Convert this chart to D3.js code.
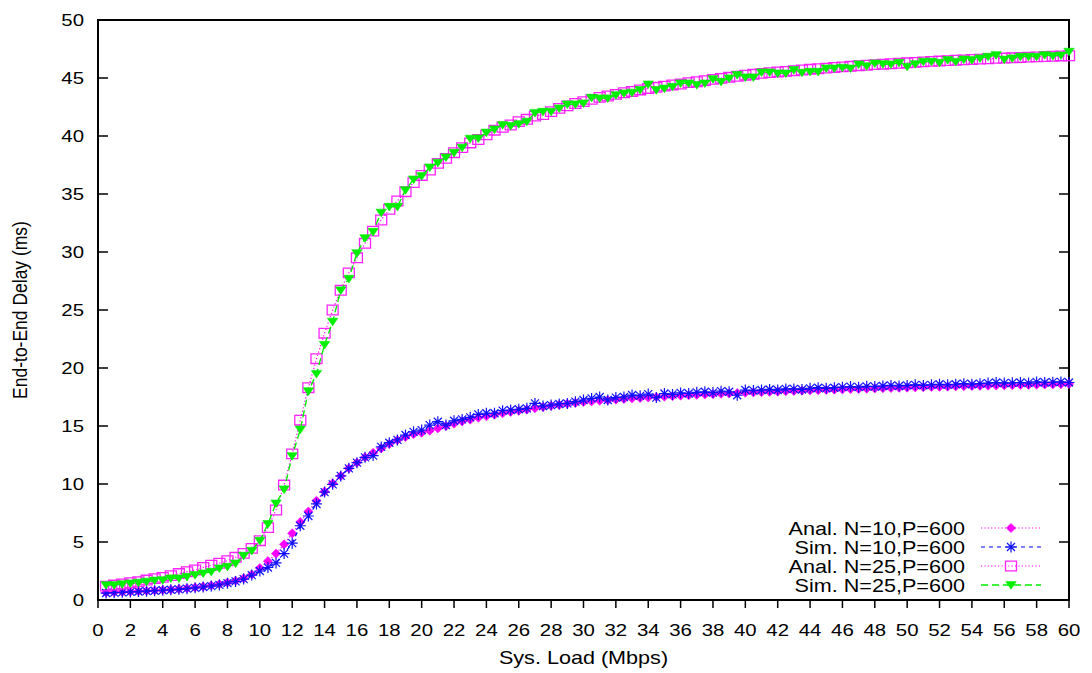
<!DOCTYPE html>
<html>
<head>
<meta charset="utf-8">
<script src="https://cdn.jsdelivr.net/npm/d3@7"></script>
<style>
  html, body { margin: 0; padding: 0; background: #fff; }
  svg { display: block; }
  text { font-family: "Liberation Sans", Arial, sans-serif; fill: #000; }
</style>
</head>
<body>
<svg id="chart" width="1092" height="673"></svg>
<script>
// System load (Mbps) at which each delay was evaluated
const loads = [
  0.5,1,1.5,2,2.5,3,3.5,4,4.5,5,5.5,6,6.5,7,7.5,8,8.5,9,9.5,10,
  10.5,11,11.5,12,12.5,13,13.5,14,14.5,15,15.5,16,16.5,17,17.5,18,18.5,19,19.5,20,
  20.5,21,21.5,22,22.5,23,23.5,24,24.5,25,25.5,26,26.5,27,27.5,28,28.5,29,29.5,30,
  30.5,31,31.5,32,32.5,33,33.5,34,34.5,35,35.5,36,36.5,37,37.5,38,38.5,39,39.5,40,
  40.5,41,41.5,42,42.5,43,43.5,44,44.5,45,45.5,46,46.5,47,47.5,48,48.5,49,49.5,50,
  50.5,51,51.5,52,52.5,53,53.5,54,54.5,55,55.5,56,56.5,57,57.5,58,58.5,59,59.5,60
];

// End-to-end delay (ms), analytical model, N=10, P=600
const analN10 = [
  0.65,0.67,0.70,0.72,0.75,0.78,0.82,0.86,0.90,0.95,1.01,1.08,1.16,1.25,1.36,1.50,1.66,1.87,2.20,2.75,
  3.35,4.00,4.80,5.75,6.72,7.62,8.55,9.35,10.06,10.70,11.35,11.84,12.30,12.68,13.07,13.45,13.78,14.05,14.30,14.42,
  14.60,14.80,15.00,15.20,15.40,15.55,15.72,15.85,15.98,16.10,16.22,16.32,16.42,16.54,16.64,16.74,16.82,16.92,17.00,17.07,
  17.13,17.18,17.23,17.28,17.33,17.38,17.42,17.46,17.50,17.54,17.58,17.62,17.65,17.69,17.72,17.75,17.78,17.81,17.84,17.87,
  17.90,17.92,17.95,17.97,18.00,18.02,18.05,18.07,18.09,18.12,18.14,18.16,18.18,18.20,18.22,18.24,18.26,18.28,18.30,18.31,
  18.33,18.35,18.37,18.38,18.40,18.42,18.43,18.45,18.46,18.48,18.49,18.51,18.52,18.54,18.55,18.56,18.58,18.59,18.60,18.62
];

// End-to-end delay (ms), simulation, N=10, P=600
const simN10 = [
  0.60,0.63,0.66,0.70,0.73,0.76,0.80,0.84,0.88,0.92,0.98,1.05,1.12,1.20,1.30,1.45,1.60,1.80,2.15,2.50,
  2.80,3.20,4.00,4.90,6.40,7.24,8.28,9.30,9.97,10.70,11.35,11.84,12.30,12.45,13.20,13.56,13.80,14.22,14.50,14.65,
  15.08,15.37,15.08,15.45,15.57,15.75,16.00,16.10,16.10,16.32,16.38,16.44,16.52,16.95,16.72,16.80,16.90,16.95,17.10,17.24,
  17.38,17.50,17.24,17.45,17.50,17.67,17.60,17.75,17.45,17.80,17.72,17.85,17.80,17.90,17.95,17.88,18.00,17.95,17.65,18.10,
  18.05,18.10,18.15,18.10,18.20,18.20,18.15,18.25,18.30,18.25,18.30,18.35,18.40,18.35,18.42,18.40,18.45,18.50,18.45,18.50,
  18.55,18.50,18.55,18.60,18.55,18.60,18.65,18.60,18.65,18.70,18.75,18.70,18.72,18.75,18.70,18.80,18.75,18.78,18.80,18.75
];

// End-to-end delay (ms), analytical model, N=25, P=600
const analN25 = [
  1.20,1.29,1.38,1.49,1.58,1.72,1.84,1.95,2.10,2.28,2.44,2.59,2.80,3.00,3.17,3.39,3.68,4.02,4.45,5.11,
  6.24,7.76,9.91,12.60,15.50,18.30,20.80,23.00,25.00,26.70,28.20,29.50,30.75,31.80,32.76,33.68,34.40,35.20,35.98,36.60,
  37.07,37.64,38.07,38.56,39.00,39.40,39.70,40.10,40.50,40.75,40.95,41.24,41.44,41.72,41.85,42.10,42.38,42.60,42.80,42.96,
  43.16,43.33,43.45,43.59,43.73,43.84,43.97,44.10,44.20,44.30,44.40,44.48,44.60,44.68,44.77,44.88,44.97,45.06,45.15,45.24,
  45.32,45.40,45.46,45.52,45.57,45.63,45.69,45.75,45.80,45.85,45.91,45.96,46.01,46.06,46.10,46.15,46.19,46.23,46.27,46.31,
  46.35,46.39,46.43,46.46,46.50,46.53,46.56,46.60,46.63,46.66,46.69,46.72,46.74,46.77,46.80,46.82,46.85,46.87,46.90,46.92
];

// End-to-end delay (ms), simulation, N=25, P=600
const simN25 = [
  1.29,1.29,1.36,1.43,1.50,1.58,1.68,1.72,1.87,1.87,2.01,2.16,2.30,2.44,2.73,2.87,3.16,3.82,4.25,5.11,
  6.55,8.33,9.54,12.41,14.70,18.00,19.50,22.00,24.00,26.70,27.70,29.90,31.20,31.75,33.40,33.90,33.90,35.34,36.26,36.55,
  37.30,37.70,38.16,38.56,39.00,39.77,39.80,40.30,40.57,40.95,40.87,41.03,41.24,42.00,42.10,42.10,42.38,42.73,42.73,42.82,
  43.30,43.25,43.25,43.53,43.68,43.74,43.97,44.45,43.97,44.10,44.25,44.54,44.54,44.40,44.54,44.91,44.68,44.97,45.26,45.06,
  45.06,45.49,45.49,45.40,45.40,45.69,45.46,45.54,45.54,45.83,45.83,45.90,45.83,46.18,46.03,46.26,46.20,46.18,46.32,45.98,
  46.20,46.41,46.41,46.32,46.55,46.41,46.60,46.55,46.70,46.84,46.98,46.60,46.70,46.84,46.84,46.84,46.98,46.90,46.95,47.27
];

const seriesNames = ["Anal. N=10,P=600", "Sim. N=10,P=600", "Anal. N=25,P=600", "Sim. N=25,P=600"];
const xTicks = [0,2,4,6,8,10,12,14,16,18,20,22,24,26,28,30,32,34,36,38,40,42,44,46,48,50,52,54,56,58,60];
const yTicks = [0,5,10,15,20,25,30,35,40,45,50];
const xTitle = "Sys. Load (Mbps)";
const yTitle = "End-to-End Delay (ms)";

// ---- layout ----
const W = 1092, H = 673;
const plot = { left: 98, right: 1069, top: 20, bottom: 600 };
const SX = 1.2; // horizontal glyph stretch

const svg = d3.select("#chart");
const x = d3.scaleLinear().domain([0, 60]).range([plot.left, plot.right]);
const y = d3.scaleLinear().domain([0, 50]).range([plot.bottom, plot.top]);

// marker shapes, centred on the data point
const markers = {
  diamond: g => g.append("path").attr("d", "M0,-4.6L4.6,0L0,4.6L-4.6,0Z")
                 .attr("fill", "#ff00ff").attr("stroke", "#ff00ff").attr("stroke-width", 0.6),
  star: g => g.append("path").attr("d", "M-5.5,0H5.5M0,-5.5V5.5M-4,-4L4,4M-4,4L4,-4")
                 .attr("fill", "none").attr("stroke", "#1010ff").attr("stroke-width", 1.2),
  square: g => g.append("path").attr("d", "M-5.5,-4.8H5.5V4.8H-5.5Z")
                 .attr("fill", "none").attr("stroke", "#ff22ff").attr("stroke-width", 1.3),
  triangle: g => g.append("path").attr("d", "M-5.2,-3.4H5.2L0,4.2Z")
                 .attr("fill", "#00ee00").attr("stroke", "#00ee00").attr("stroke-width", 0.6)
};

const series = [
  { name: seriesNames[0], values: analN10, color: "#ff00ff", dash: "1.2,2.2", width: 1.2, marker: "diamond" },
  { name: seriesNames[1], values: simN10,  color: "#0000ff", dash: "4,4",     width: 1.2, marker: "star" },
  { name: seriesNames[2], values: analN25, color: "#ff00ff", dash: "1.2,2.2", width: 1.2, marker: "square" },
  { name: seriesNames[3], values: simN25,  color: "#00ee00", dash: "7,4",     width: 1.4, marker: "triangle" }
];

function stretchedText(parent, tx, ty, str, size, anchor) {
  return parent.append("text")
    .attr("transform", `translate(${tx},${ty}) scale(${SX},1)`)
    .attr("text-anchor", anchor)
    .style("font-size", size + "px")
    .text(str);
}

// ---- axes frame and ticks ----
const axes = svg.append("g");
axes.append("rect")
  .attr("x", plot.left).attr("y", plot.top)
  .attr("width", plot.right - plot.left).attr("height", plot.bottom - plot.top)
  .attr("fill", "none").attr("stroke", "#000").attr("stroke-width", 2);

// y ticks point inward on both sides
yTicks.forEach(t => {
  axes.append("line").attr("x1", plot.left).attr("x2", plot.left + 10)
    .attr("y1", y(t)).attr("y2", y(t)).attr("stroke", "#000").attr("stroke-width", 1.5);
  axes.append("line").attr("x1", plot.right).attr("x2", plot.right - 10)
    .attr("y1", y(t)).attr("y2", y(t)).attr("stroke", "#000").attr("stroke-width", 1.5);
  stretchedText(axes, 84, y(t) + 6, String(t), 17, "end");
});

// x ticks point outward below the plot
xTicks.forEach(t => {
  axes.append("line").attr("x1", x(t)).attr("x2", x(t))
    .attr("y1", plot.bottom).attr("y2", plot.bottom + 8).attr("stroke", "#000").attr("stroke-width", 1.5);
  stretchedText(axes, x(t), 636, String(t), 17, "middle");
});

stretchedText(svg, (plot.left + plot.right) / 2, 664, xTitle, 18, "middle");
svg.append("text")
  .attr("transform", `translate(27,${(plot.top + plot.bottom) / 2}) scale(${SX},1) rotate(-90)`)
  .attr("text-anchor", "middle")
  .style("font-size", "17.5px")
  .text(yTitle);

// ---- data ----
const line = d3.line().x((d, i) => x(loads[i])).y(d => y(d));
const dataLayer = svg.append("g");
series.forEach(s => {
  const g = dataLayer.append("g");
  g.append("path").datum(s.values)
    .attr("d", line)
    .attr("fill", "none").attr("stroke", s.color)
    .attr("stroke-width", s.width).attr("stroke-dasharray", s.dash);
  g.selectAll("g.pt").data(s.values).join("g")
    .attr("class", "pt")
    .attr("transform", (d, i) => `translate(${x(loads[i])},${y(d)})`)
    .each(function () { markers[s.marker](d3.select(this)); });
});

// ---- legend ----
const legend = svg.append("g");
const rowY = [528, 547, 566, 585];
series.forEach((s, i) => {
  stretchedText(legend, 965, rowY[i] + 6.5, s.name, 18, "end");
  legend.append("line")
    .attr("x1", 981).attr("x2", 1041).attr("y1", rowY[i]).attr("y2", rowY[i])
    .attr("stroke", s.color).attr("stroke-width", s.width).attr("stroke-dasharray", s.dash);
  const m = legend.append("g").attr("transform", `translate(1011,${rowY[i]})`);
  markers[s.marker](m);
});
</script>
</body>
</html>
